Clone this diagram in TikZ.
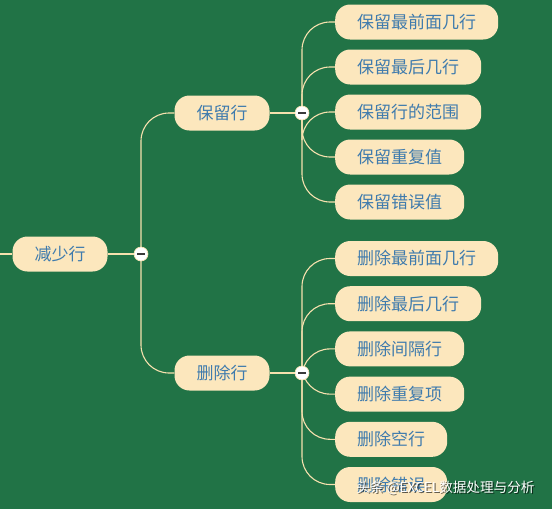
\documentclass[tikz,border=0pt]{standalone}
\usepackage{fontspec}
\newfontfamily\cjk{Noto Sans CJK SC}
\usetikzlibrary{positioning}
\definecolor{Board}{HTML}{217346}
\definecolor{Cream}{HTML}{FCE7BD}
\definecolor{Wire}{HTML}{F6E1AE}
\definecolor{Label}{HTML}{3F7BAD}
\definecolor{Knob}{HTML}{3A3A3A}
\pgfdeclarelayer{board}
\pgfdeclarelayer{wires}
\pgfsetlayers{board,wires,main}

\begin{document}
\begin{tikzpicture}[x=1pt,y=-1pt,every node/.style={font=\cjk\fontsize{17}{20}\selectfont,text=Label},topic/.style={fill=Cream,rounded corners=15pt,minimum height=35pt,inner xsep=22pt,inner ysep=0pt},wire/.style={draw=Wire,line width=1.1pt,rounded corners=28pt},fold/.style={circle,fill=white,draw=Wire,line width=0.6pt,minimum size=14pt,inner sep=0pt,path picture={\draw[Knob,line width=2pt] ([xshift=-4pt]path picture bounding box.center)--([xshift=4pt]path picture bounding box.center);}}]
\begin{pgfonlayer}{board}
\fill[Board] (0,0) rectangle (552,509);
\end{pgfonlayer}
\useasboundingbox (0,0) rectangle (552,509);

% root and branches
\node[topic] (root) at (60,254) {减少行};
\coordinate (edge) at (0,254);
\node[fold] (f0) at (141,254) {};
\node[topic] (keep) at (222,113) {保留行};
\node[topic] (drop) at (222,373) {删除行};
\node[fold] (f1) at (302,113) {};
\node[fold] (f2) at (302,373) {};

% leaves
\foreach \t [count=\i] in {保留最前面几行,保留最后几行,保留行的范围,保留重复值,保留错误值}
  \node[topic,anchor=west] (k\i) at (335,{22+45*(\i-1)}) {\t};
\foreach \t [count=\i] in {删除最前面几行,删除最后几行,删除间隔行,删除重复项,删除空行,删除错误}
  \node[topic,anchor=west] (d\i) at (335,{258.5+45.2*(\i-1)}) {\t};

\begin{pgfonlayer}{wires}
\draw[wire] (edge) -- (root.west);
\draw[wire] (root.east) -- (f0.center);
\draw[wire] (f0.center) |- (keep.west);
\draw[wire] (f0.center) |- (drop.west);
\draw[wire] (keep.east) -- (f1.center);
\draw[wire] (drop.east) -- (f2.center);
\foreach \i in {1,...,5} \draw[wire] (f1.center) |- (k\i.west);
\foreach \i in {1,...,6} \draw[wire] (f2.center) |- (d\i.west);
\end{pgfonlayer}

% watermark
\node[anchor=east,text=black,font=\cjk\fontsize{13.6}{16}\selectfont,opacity=0.6] (markshade) at (539.2,489.2) {头条 @EXCEL数据处理与分析};
\node[anchor=east,text=white,font=\cjk\fontsize{13.6}{16}\selectfont] (mark) at (538,488) {头条 @EXCEL数据处理与分析};
\end{tikzpicture}
\end{document}
